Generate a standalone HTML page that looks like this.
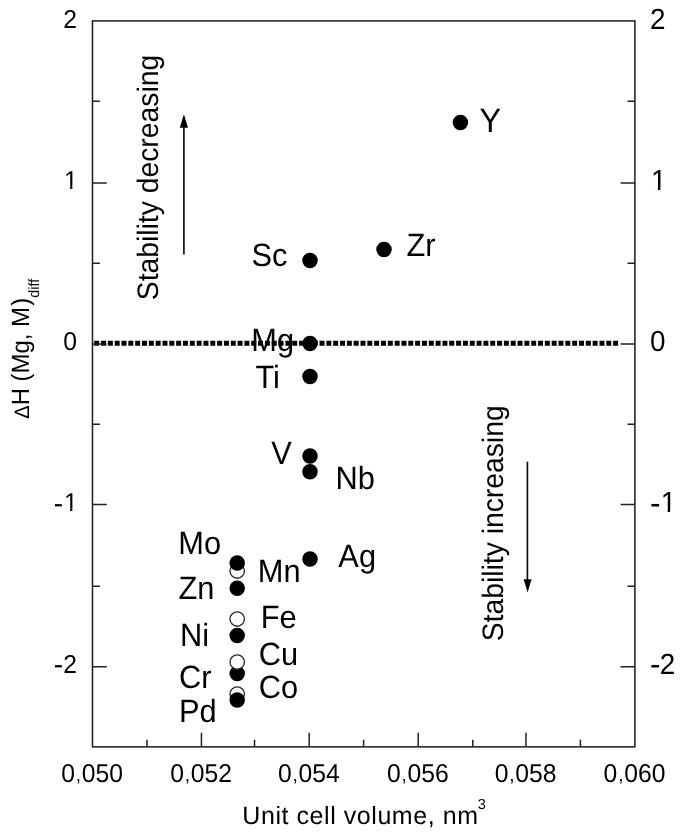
<!DOCTYPE html><html><head><meta charset="utf-8"><style>html,body{margin:0;padding:0;background:#fff;width:682px;height:832px;overflow:hidden}svg{display:block;will-change:transform}text{font-family:"Liberation Sans",sans-serif;fill:#000;text-rendering:geometricPrecision}</style></head><body>
<svg width="682" height="832" viewBox="0 0 682 832">
<line x1="94.2" y1="343.2" x2="618.1" y2="343.2" stroke="#000" stroke-width="5.1" stroke-dasharray="5 1.828"/>
<rect x="92.47" y="20.93" width="542.43" height="725.9300000000001" fill="none" stroke="#1a1a1a" stroke-width="1.5"/>
<path d="M92.47 666.86h14.3M634.9 666.86h-14.3M92.47 586.33h7.4M634.9 586.33h-7.4M92.47 504.51h14.3M634.9 504.51h-14.3M92.47 424.26h7.4M634.9 424.26h-7.4M92.47 343.90h14.3M634.9 343.90h-14.3M92.47 263.20h7.4M634.9 263.20h-7.4M92.47 183.05h14.3M634.9 183.05h-14.3M92.47 101.28h7.4M634.9 101.28h-7.4M146.96 746.86v-7M201.44 746.86v-14M254.54 746.86v-7M309.19 746.86v-14M363.61 746.86v-7M418.21 746.86v-14M472.77 746.86v-7M525.96 746.86v-14M580.42 746.86v-7" stroke="#222" stroke-width="1.5" fill="none"/>
<text transform="translate(63.16 27.50) scale(1 1.045)" font-size="24.7">2</text>
<text transform="translate(650.00 28.90) scale(1 1.045)" font-size="27.9">2</text>
<text transform="translate(63.16 188.60) scale(1 1.045)" font-size="24.7"><tspan dy="0" dx="0.80">1</tspan></text>
<text transform="translate(650.00 190.30) scale(1 1.045)" font-size="27.9"><tspan dy="0" dx="0.90">1</tspan></text>
<text transform="translate(63.16 349.60) scale(1 1.045)" font-size="24.7">0</text>
<text transform="translate(650.00 351.20) scale(1 1.045)" font-size="27.9">0</text>
<text transform="translate(53.84 511.40) scale(1 1.045)" font-size="24.7"><tspan font-size="28.0" dy="1.5">-</tspan><tspan dy="-1.5" dx="0.80">1</tspan></text>
<text transform="translate(650.00 512.20) scale(1 1.045)" font-size="27.9"><tspan font-size="31.6" dy="2.13">-</tspan><tspan dy="-2.13" dx="0.10">1</tspan></text>
<text transform="translate(53.84 672.60) scale(1 1.045)" font-size="24.7"><tspan font-size="28.0" dy="1.5">-</tspan><tspan dy="-1.5" dx="0.0">2</tspan></text>
<text transform="translate(650.00 673.80) scale(1 1.045)" font-size="27.9"><tspan font-size="31.6" dy="0.69">-</tspan><tspan dy="-0.69" dx="-0.8">2</tspan></text>
<rect x="64.94" y="185.67" width="5.23" height="3.93" fill="#fff"/><rect x="72.36" y="185.67" width="5.04" height="3.93" fill="#fff"/><rect x="652.13" y="187.12" width="5.79" height="4.18" fill="#fff"/><rect x="660.38" y="187.12" width="5.57" height="4.18" fill="#fff"/><rect x="64.94" y="508.47" width="5.23" height="3.93" fill="#fff"/><rect x="72.36" y="508.47" width="5.04" height="3.93" fill="#fff"/><rect x="661.85" y="509.02" width="5.79" height="4.18" fill="#fff"/><rect x="670.10" y="509.02" width="5.57" height="4.18" fill="#fff"/>
<text transform="translate(92.07 781.80) scale(1 1.045)" font-size="24.7" text-anchor="middle">0<tspan font-size="19" dx="0.9" dy="-1.0">,</tspan><tspan dx="0.7" dy="1.0">050</tspan></text>
<text transform="translate(201.04 781.80) scale(1 1.045)" font-size="24.7" text-anchor="middle">0<tspan font-size="19" dx="0.9" dy="-1.0">,</tspan><tspan dx="0.7" dy="1.0">052</tspan></text>
<text transform="translate(308.79 781.80) scale(1 1.045)" font-size="24.7" text-anchor="middle">0<tspan font-size="19" dx="0.9" dy="-1.0">,</tspan><tspan dx="0.7" dy="1.0">054</tspan></text>
<text transform="translate(417.81 781.80) scale(1 1.045)" font-size="24.7" text-anchor="middle">0<tspan font-size="19" dx="0.9" dy="-1.0">,</tspan><tspan dx="0.7" dy="1.0">056</tspan></text>
<text transform="translate(525.56 781.80) scale(1 1.045)" font-size="24.7" text-anchor="middle">0<tspan font-size="19" dx="0.9" dy="-1.0">,</tspan><tspan dx="0.7" dy="1.0">058</tspan></text>
<text transform="translate(634.50 781.80) scale(1 1.045)" font-size="24.7" text-anchor="middle">0<tspan font-size="19" dx="0.9" dy="-1.0">,</tspan><tspan dx="0.7" dy="1.0">060</tspan></text>
<text transform="translate(242.30 823.60) scale(1 1.0)" font-size="25.0" letter-spacing="0.56">Unit cell volume, nm<tspan font-size="14.5" dy="-14.5" dx="-0.8">3</tspan></text>
<text transform="translate(29.30 418.70) rotate(-90) scale(1 1.045)" font-size="23.9"><tspan font-size="20">Δ</tspan>H (Mg, M<tspan dx="1.3">)</tspan><tspan font-size="14.3" dy="9.5" dx="0.2">diff</tspan></text>
<text transform="translate(158.00 300.20) rotate(-90) scale(1 1.045)" font-size="28.3">Stability decreasing</text>
<text transform="translate(503.20 641.30) rotate(-90) scale(1 1.045)" font-size="28.3">Stability increasing</text>
<line x1="183.9" y1="254.5" x2="183.9" y2="126" stroke="#111" stroke-width="1.7"/>
<path d="M183.9 114.3L188 127.8L179.8 127.8Z" fill="#000"/>
<line x1="527.4" y1="461.7" x2="527.4" y2="581" stroke="#111" stroke-width="1.7"/>
<path d="M527.6 592.2L531.6 579.2L523.6 579.2Z" fill="#000"/>
<circle cx="460.4" cy="122.6" r="7.75" fill="#000"/>
<circle cx="384" cy="249.4" r="7.75" fill="#000"/>
<circle cx="310" cy="260.5" r="7.75" fill="#000"/>
<circle cx="310" cy="343.6" r="7.75" fill="#000"/>
<circle cx="310" cy="376.5" r="7.75" fill="#000"/>
<circle cx="310" cy="456" r="7.75" fill="#000"/>
<circle cx="310" cy="471.8" r="7.75" fill="#000"/>
<circle cx="310" cy="558.9" r="7.75" fill="#000"/>
<circle cx="237.2" cy="571.0" r="7.2" fill="#fff" stroke="#2a2a2a" stroke-width="1.35"/>
<circle cx="237.2" cy="562.9" r="7.75" fill="#000"/>
<circle cx="237.2" cy="588.3" r="7.75" fill="#000"/>
<circle cx="237.2" cy="619.0" r="7.2" fill="#fff" stroke="#2a2a2a" stroke-width="1.35"/>
<circle cx="237.2" cy="635.4" r="7.75" fill="#000"/>
<circle cx="237.2" cy="673.5" r="7.75" fill="#000"/>
<circle cx="237.2" cy="662.0" r="7.2" fill="#fff" stroke="#2a2a2a" stroke-width="1.35"/>
<circle cx="237.2" cy="694.0" r="7.2" fill="#fff" stroke="#2a2a2a" stroke-width="1.35"/>
<circle cx="237.2" cy="700.0" r="7.75" fill="#000"/>
<text transform="translate(479.49 132.10) scale(1 1.045)" font-size="32.4">Y</text>
<text transform="translate(406.52 256.00) scale(1 1.045)" font-size="30.8">Zr</text>
<text transform="translate(251.40 266.30) scale(1 1.045)" font-size="30.8">Sc</text>
<text transform="translate(251.37 350.90) scale(1 1.045)" font-size="30.8">Mg</text>
<text transform="translate(255.41 387.50) scale(1 1.045)" font-size="30.8">Ti</text>
<text transform="translate(271.16 463.50) scale(1 1.045)" font-size="30.8">V</text>
<text transform="translate(335.57 489.10) scale(1 1.045)" font-size="30.8">Nb</text>
<text transform="translate(338.34 566.80) scale(1 1.045)" font-size="30.8">Ag</text>
<text transform="translate(178.27 554.20) scale(1 1.045)" font-size="30.8">Mo</text>
<text transform="translate(178.52 599.30) scale(1 1.045)" font-size="30.8">Zn</text>
<text transform="translate(179.97 646.20) scale(1 1.045)" font-size="30.8">Ni</text>
<text transform="translate(178.94 687.60) scale(1 1.045)" font-size="30.8">Cr</text>
<text transform="translate(178.97 722.30) scale(1 1.045)" font-size="30.8">Pd</text>
<text transform="translate(257.77 582.40) scale(1 1.045)" font-size="30.8">Mn</text>
<text transform="translate(260.67 628.00) scale(1 1.045)" font-size="30.8">Fe</text>
<text transform="translate(258.74 665.40) scale(1 1.045)" font-size="30.8">Cu</text>
<text transform="translate(258.74 698.00) scale(1 1.045)" font-size="30.8">Co</text>
</svg></body></html>
